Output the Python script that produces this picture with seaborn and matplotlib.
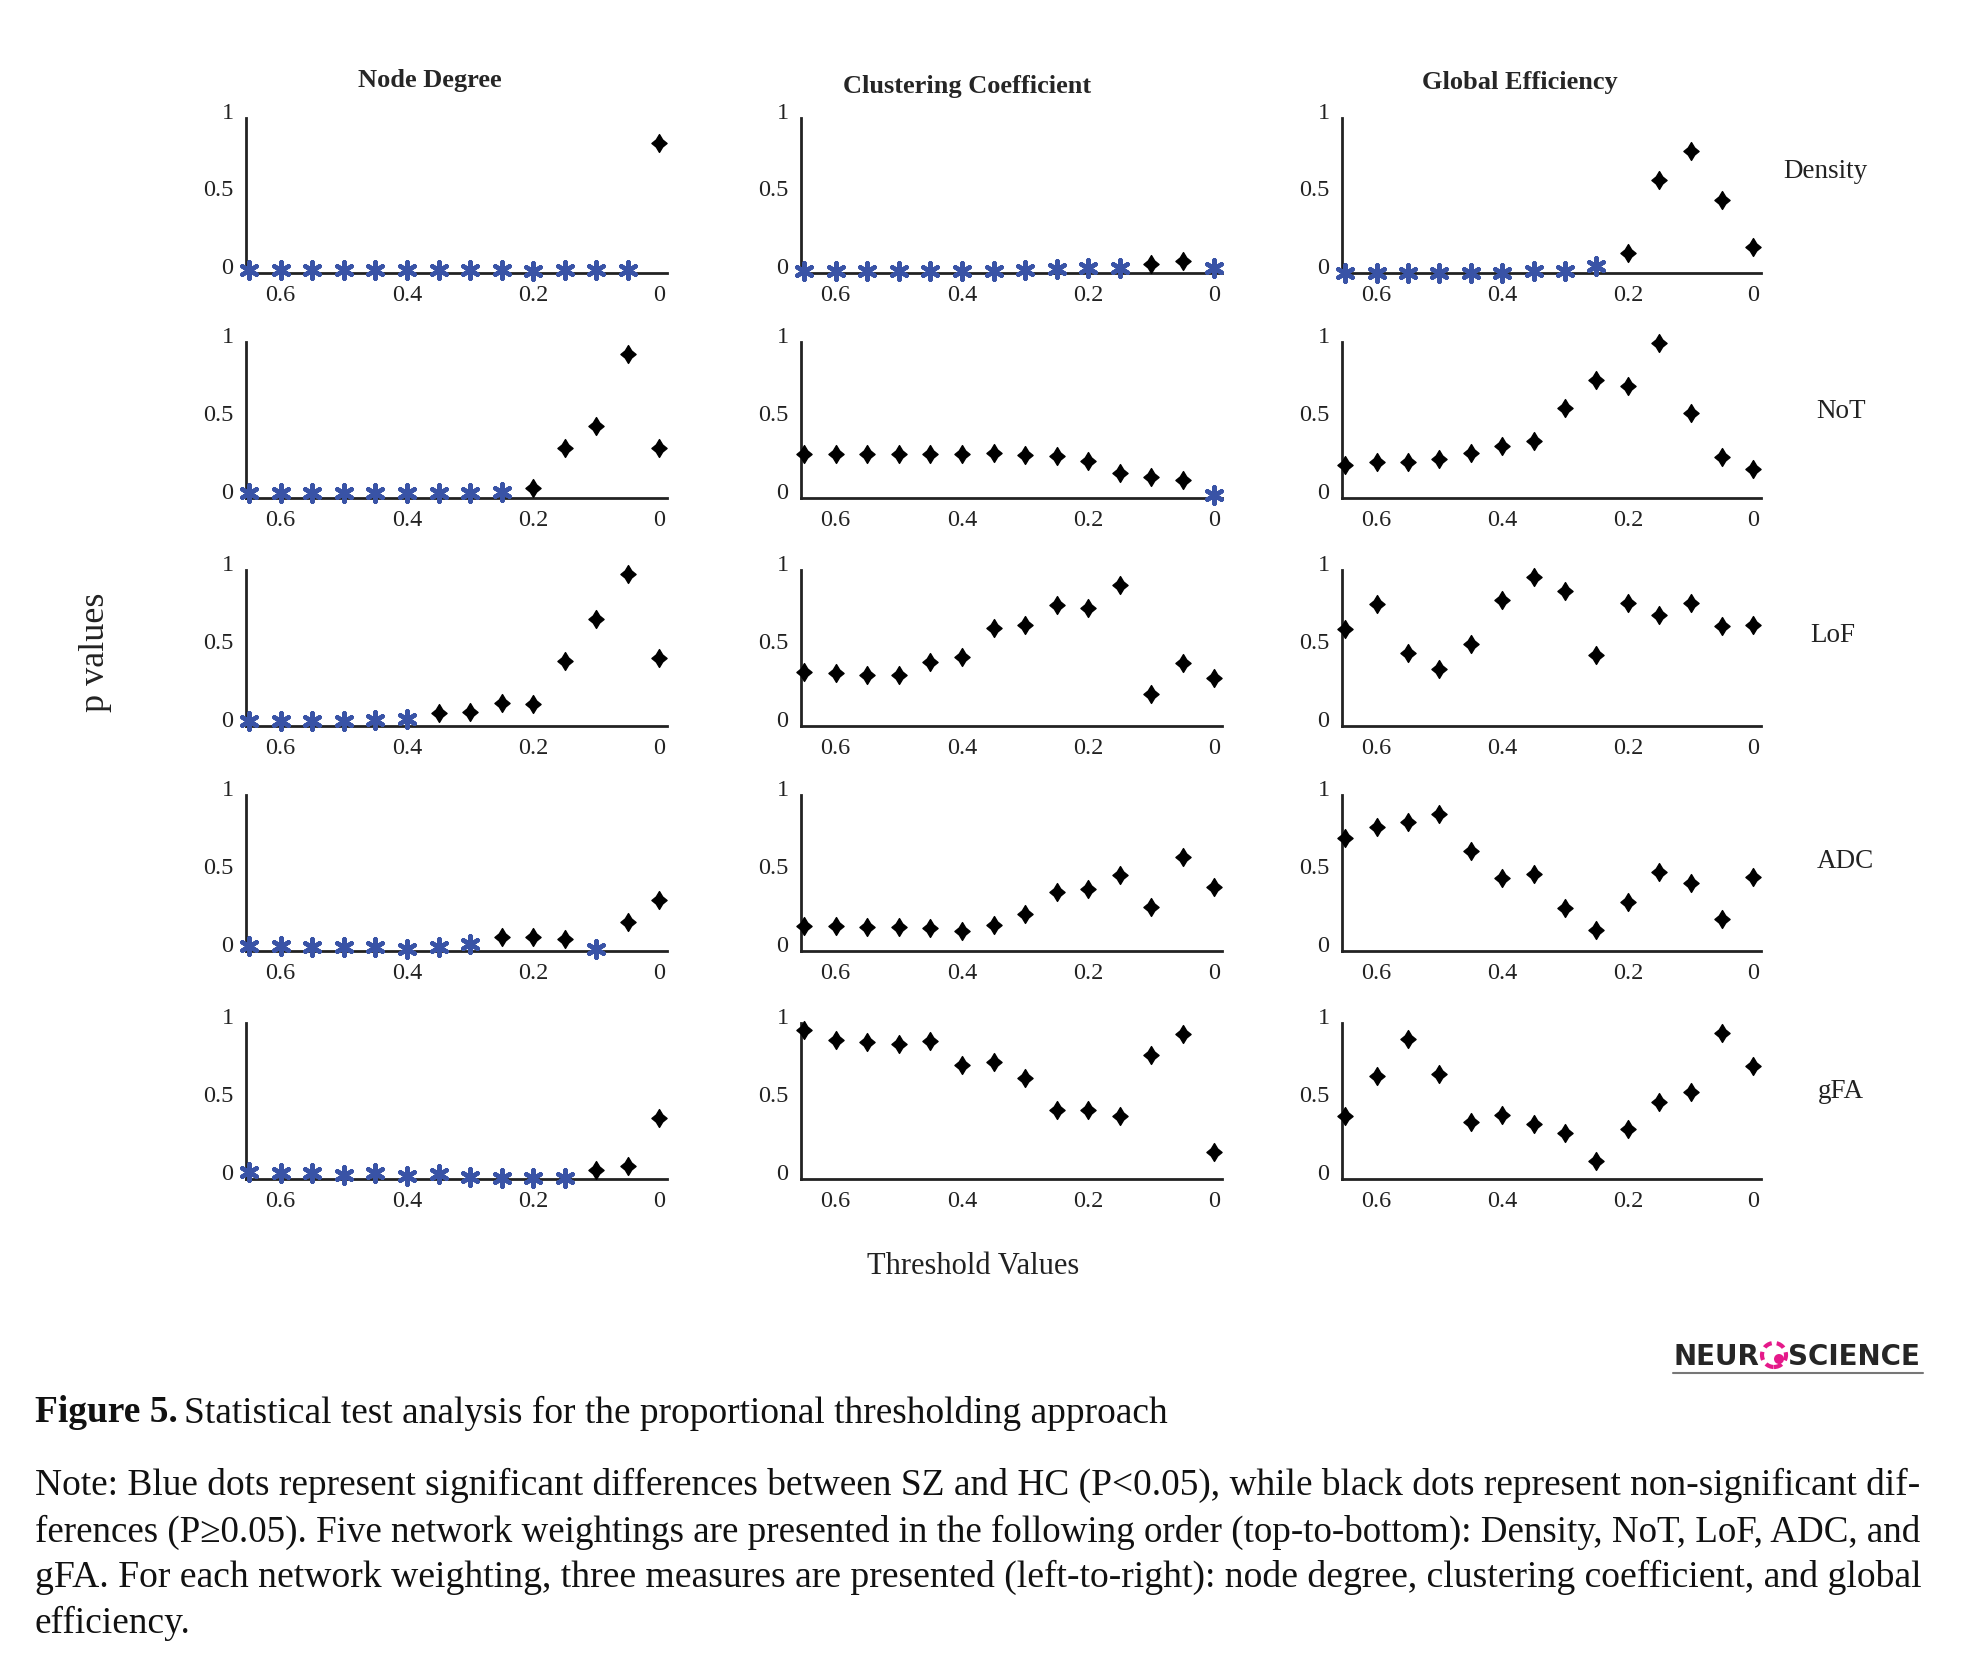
import matplotlib
matplotlib.use("Agg")
import matplotlib.pyplot as plt
import matplotlib.transforms as mtransforms
from matplotlib.patches import Ellipse
from matplotlib.lines import Line2D
from matplotlib.path import Path
import pandas as pd
import seaborn as sns

# x positions of the 14 proportional thresholds (axis runs from 0.65 down to 0)
thresholds = [0.65, 0.60, 0.55, 0.50, 0.45, 0.40, 0.35, 0.30, 0.25, 0.20, 0.15, 0.10, 0.05, 0.00]

measures = ["Node Degree", "Clustering Coefficient", "Global Efficiency"]
weightings = ["Density", "NoT", "LoF", "ADC", "gFA"]
x_ticks = [0.6, 0.4, 0.2, 0]
x_tick_labels = ["0.6", "0.4", "0.2", "0"]
y_ticks = [0, 0.5, 1]
y_tick_labels = ["0", "0.5", "1"]

# p values
nd_density = [0.02, 0.02, 0.02, 0.02, 0.02, 0.02, 0.02, 0.02, 0.02, 0.01, 0.02, 0.02, 0.02, 0.84]
cc_density = [0.01, 0.01, 0.01, 0.015, 0.015, 0.015, 0.015, 0.02, 0.025, 0.035, 0.035, 0.055, 0.075, 0.035]
ge_density = [0.0, 0.0, 0.0, 0.0, 0.0, 0.0, 0.01, 0.015, 0.043, 0.126, 0.60, 0.79, 0.47, 0.165]

nd_not = [0.03, 0.03, 0.03, 0.03, 0.03, 0.035, 0.03, 0.035, 0.04, 0.062, 0.32, 0.46, 0.92, 0.32]
cc_not = [0.284, 0.284, 0.284, 0.28, 0.284, 0.284, 0.286, 0.275, 0.267, 0.24, 0.158, 0.136, 0.113, 0.02]
ge_not = [0.213, 0.228, 0.232, 0.247, 0.286, 0.335, 0.365, 0.58, 0.757, 0.72, 0.996, 0.546, 0.26, 0.186]

nd_lof = [0.032, 0.03, 0.03, 0.03, 0.04, 0.045, 0.083, 0.09, 0.147, 0.139, 0.414, 0.687, 0.977, 0.435]
cc_lof = [0.343, 0.337, 0.326, 0.326, 0.41, 0.443, 0.63, 0.65, 0.774, 0.755, 0.904, 0.205, 0.403, 0.307]
ge_lof = [0.623, 0.783, 0.469, 0.367, 0.527, 0.808, 0.957, 0.866, 0.452, 0.787, 0.714, 0.787, 0.644, 0.65]

nd_adc = [0.03, 0.032, 0.026, 0.026, 0.023, 0.015, 0.023, 0.043, 0.087, 0.087, 0.077, 0.01, 0.185, 0.33]
cc_adc = [0.158, 0.158, 0.151, 0.151, 0.145, 0.126, 0.166, 0.239, 0.377, 0.399, 0.49, 0.284, 0.60, 0.41]
ge_adc = [0.723, 0.795, 0.83, 0.876, 0.64, 0.469, 0.494, 0.275, 0.136, 0.311, 0.505, 0.439, 0.207, 0.475]

nd_gfa = [0.045, 0.04, 0.036, 0.028, 0.04, 0.019, 0.03, 0.015, 0.009, 0.006, 0.006, 0.058, 0.085, 0.393]
cc_gfa = [0.957, 0.891, 0.876, 0.868, 0.887, 0.733, 0.748, 0.645, 0.444, 0.444, 0.406, 0.793, 0.927, 0.173]
ge_gfa = [0.406, 0.662, 0.897, 0.671, 0.363, 0.41, 0.353, 0.295, 0.115, 0.318, 0.491, 0.558, 0.936, 0.722]

p_values = {
    "Density": [nd_density, cc_density, ge_density],
    "NoT": [nd_not, cc_not, ge_not],
    "LoF": [nd_lof, cc_lof, ge_lof],
    "ADC": [nd_adc, cc_adc, ge_adc],
    "gFA": [nd_gfa, cc_gfa, ge_gfa],
}

W, H = 1987, 1681
BLUE = "#3953a6"
INK = "#222222"

# filled diamond with a slight cross, like the MATLAB markers in the original
diamond_cross = Path([(0, 1), (0.36, 0.4), (0.85, 0), (0.36, -0.4), (0, -1),
                      (-0.36, -0.4), (-0.85, 0), (-0.36, 0.4), (0, 1)], closed=True)

sns.set_theme(style="white")
plt.rcParams["font.family"] = ["Liberation Serif", "DejaVu Serif"]

fig = plt.figure(figsize=(W / 100, H / 100), dpi=100)
fig.patch.set_facecolor("white")

col_px = [(246, 667), (801, 1222), (1342, 1761)]
row_px = [(119, 274), (343, 499), (571, 727), (796, 952), (1024, 1180)]

label_shift = mtransforms.ScaledTranslation(0, 8 / 100, fig.dpi_scale_trans)

for i, weighting in enumerate(weightings):
    top, bottom = row_px[i]
    for j, measure in enumerate(measures):
        left, right = col_px[j]
        ax = fig.add_axes([left / W, 1 - bottom / H, (right - left) / W, (bottom - top) / H])
        df = pd.DataFrame({"threshold": thresholds, "p": p_values[weighting][j]})
        df["significant"] = df["p"] < 0.05
        ns = df[~df["significant"]]
        sig = df[df["significant"]]
        if len(ns):
            sns.scatterplot(data=ns, x="threshold", y="p", ax=ax, marker=diamond_cross,
                            s=165, color="black", edgecolor="black", linewidth=1.0,
                            clip_on=False, zorder=3)
        if len(sig):
            sns.scatterplot(data=sig, x="threshold", y="p", ax=ax, marker=(6, 2, 0),
                            s=140, color=BLUE, linewidth=3.2, clip_on=False, zorder=4)
        ax.set_xlim(0.655, -0.012)
        ax.set_ylim(0, 1)
        ax.set_xticks(x_ticks)
        ax.set_xticklabels(x_tick_labels)
        ax.set_yticks(y_ticks)
        ax.set_yticklabels(y_tick_labels)
        ax.set_xlabel("")
        ax.set_ylabel("")
        ax.set_facecolor("none")
        for side in ["top", "right"]:
            ax.spines[side].set_visible(False)
        for side in ["left", "bottom"]:
            ax.spines[side].set_color(INK)
            ax.spines[side].set_linewidth(2.0)
        ax.tick_params(direction="in", length=5, width=1.6, color=INK,
                       labelsize=17.5, labelcolor=INK)
        ax.tick_params(axis="x", pad=8)
        ax.tick_params(axis="y", pad=9)
        for lbl in ax.get_yticklabels():
            lbl.set_transform(lbl.get_transform() + label_shift)


def px_text(x, y, s, **kw):
    return fig.text(x / W, 1 - y / H, s, **kw)


# column titles
px_text(430, 80, measures[0], ha="center", va="center", fontsize=19, fontweight="bold")
px_text(967, 86, measures[1], ha="center", va="center", fontsize=19, fontweight="bold")
px_text(1520, 82, measures[2], ha="center", va="center", fontsize=19, fontweight="bold")

# row labels
row_label_pos = [(1825, 171), (1841, 412), (1833, 636), (1845, 862), (1841, 1092)]
for name, (x, y) in zip(weightings, row_label_pos):
    px_text(x, y, name, ha="center", va="center", fontsize=19.5, color=INK)

px_text(95, 652, "p values", ha="center", va="center", rotation=90, fontsize=26, color=INK)
px_text(973, 1267, "Threshold Values", ha="center", va="center", fontsize=22, color=INK)

# journal logo
logo_font = ["DejaVu Sans"]
px_text(1673, 1357, "NEUR", ha="left", va="center", fontsize=20, fontweight="bold", family=logo_font)
px_text(1788, 1357, "SCIENCE", ha="left", va="center", fontsize=20, fontweight="bold", family=logo_font)
fig.add_artist(Ellipse((1774 / W, 1 - 1356 / H), 24 / W, 24 / H, transform=fig.transFigure,
                       fill=False, edgecolor="#e5198a", linewidth=3, linestyle=(0, (2, 1.2))))
fig.add_artist(Ellipse((1779 / W, 1 - 1360 / H), 10 / W, 10 / H, transform=fig.transFigure,
                       facecolor="#e5198a", edgecolor="none"))
fig.add_artist(Line2D([1673 / W, 1923 / W], [1 - 1374 / H, 1 - 1374 / H], transform=fig.transFigure,
                      color="#777777", linewidth=1.5))

# caption
note_lines = [
    "Note: Blue dots represent significant differences between SZ and HC (P<0.05), while black dots represent non-significant dif-",
    "ferences (P\u22650.05). Five network weightings are presented in the following order (top-to-bottom): Density, NoT, LoF, ADC, and",
    "gFA. For each network weighting, three measures are presented (left-to-right): node degree, clustering coefficient, and global",
    "efficiency.",
]
note_y = [1485, 1532, 1577, 1623]
line_width = 1888

renderer = fig.canvas.get_renderer()
sizes = []
for line in note_lines[:3]:
    probe = px_text(35, 1485, line, ha="left", va="center", fontsize=20)
    sizes.append(20 * line_width / probe.get_window_extent(renderer).width)
    probe.remove()
sizes.append(sizes[0])

for line, y, size in zip(note_lines, note_y, sizes):
    px_text(35, y, line, ha="left", va="center", fontsize=size, color="#111111")

head = px_text(35, 1413, "Figure 5.", ha="left", va="center", fontsize=sizes[0], fontweight="bold", color="#111111")
head_w = head.get_window_extent(renderer).width
px_text(35 + head_w + 6, 1413, "Statistical test analysis for the proportional thresholding approach",
        ha="left", va="center", fontsize=sizes[0], color="#111111")

fig.savefig("out.png", dpi=100, facecolor="white")
